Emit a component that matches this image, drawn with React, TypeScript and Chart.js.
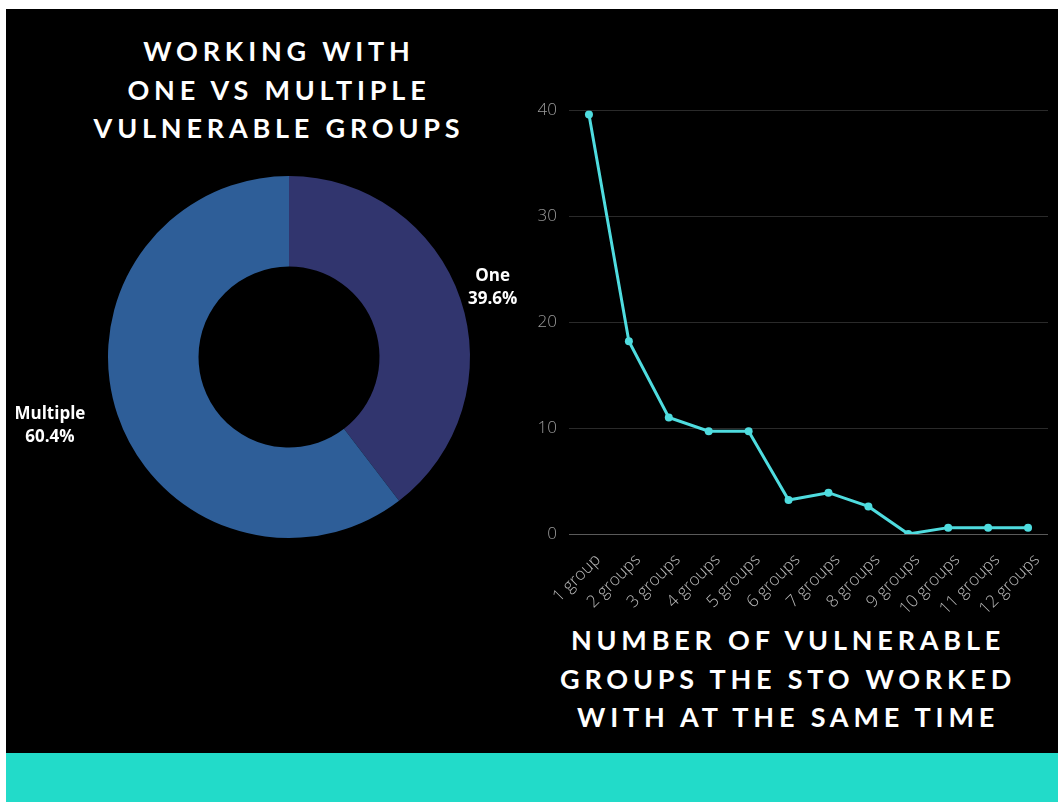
import React, { useEffect, useRef } from "react";
import { Chart, registerables } from "chart.js";
Chart.register(...registerables);

const pieLabels = ["One", "Multiple"];
const pieValues = [39.6, 60.4];
const pieColors = ["#31356e", "#2e5e98"];

const groupLabels = [
  "1 group", "2 groups", "3 groups", "4 groups", "5 groups", "6 groups",
  "7 groups", "8 groups", "9 groups", "10 groups", "11 groups", "12 groups",
];
const groupValues = [39.6, 18.2, 11.0, 9.7, 9.7, 3.2, 3.9, 2.6, 0, 0.6, 0.6, 0.6];
const yTickValues = [0, 10, 20, 30, 40];

const leftTitle = ["WORKING WITH", "ONE VS MULTIPLE", "VULNERABLE GROUPS"];
const rightTitle = ["NUMBER OF VULNERABLE", "GROUPS THE STO WORKED", "WITH AT THE SAME TIME"];

const pieLabelPlugin = {
  id: "pieOutsideLabels",
  afterDatasetsDraw(chart: any) {
    const ctx = chart.ctx;
    const meta = chart.getDatasetMeta(0);
    meta.data.forEach((arc: any, i: number) => {
      const p = arc.getProps(["x", "y", "startAngle", "endAngle", "outerRadius"], true);
      const mid = (p.startAngle + p.endAngle) / 2;
      const r = p.outerRadius + 34;
      const ax = p.x + Math.cos(mid) * r;
      const ay = p.y + Math.sin(mid) * r;
      ctx.save();
      ctx.font = 'bold 17px "Open Sans"';
      const lines = [pieLabels[i], pieValues[i].toFixed(1) + "%"];
      const w = Math.max(...lines.map((l) => ctx.measureText(l).width));
      const cx = Math.cos(mid) >= 0 ? ax : ax - w / 2;
      ctx.textAlign = "center";
      ctx.textBaseline = "middle";
      ctx.fillStyle = "#ffffff";
      const lh = 23;
      lines.forEach((l, k) => ctx.fillText(l, cx, ay + (k - (lines.length - 1) / 2) * lh));
      ctx.restore();
    });
  },
};

const titleStyle: React.CSSProperties = {
  position: "absolute",
  color: "#ffffff",
  fontFamily: "Lato, sans-serif",
  fontWeight: 700,
  fontSize: 27,
  lineHeight: "38.5px",
  letterSpacing: "4.8px",
  paddingLeft: 5,
  textAlign: "center",
  whiteSpace: "nowrap",
};

export default function App() {
  const donutRef = useRef<HTMLCanvasElement>(null);
  const lineRef = useRef<HTMLCanvasElement>(null);

  useEffect(() => {
    const donut = new Chart(donutRef.current!, {
      type: "doughnut",
      data: {
        labels: pieLabels,
        datasets: [
          {
            data: pieValues,
            backgroundColor: pieColors,
            borderWidth: 0,
          },
        ],
      },
      options: {
        animation: false,
        responsive: false,
        cutout: "50%",
        layout: { padding: { left: 100, right: 54, top: 26, bottom: 32 } },
        plugins: { legend: { display: false }, tooltip: { enabled: false } },
        events: [],
      },
      plugins: [pieLabelPlugin],
    });

    const line = new Chart(lineRef.current!, {
      type: "line",
      data: {
        labels: groupLabels,
        datasets: [
          {
            data: groupValues,
            borderColor: "#4fdcdf",
            backgroundColor: "#4fdcdf",
            borderWidth: 3,
            pointRadius: 4,
            pointBorderWidth: 0,
            tension: 0,
          },
        ],
      },
      options: {
        animation: false,
        responsive: false,
        events: [],
        layout: { padding: { top: 0, right: 8, left: 0, bottom: 0 } },
        plugins: { legend: { display: false }, tooltip: { enabled: false } },
        scales: {
          x: {
            offset: true,
            grid: { display: false },
            border: { display: false },
            ticks: {
              color: "#b8b8b8",
              font: { family: "'Open Sans'", size: 17, weight: "300" as any },
              minRotation: 45,
              maxRotation: 45,
              autoSkip: false,
              padding: 8,
              labelOffset: 9,
            },
            afterFit: (s: any) => {
              s.height = 86;
            },
          },
          y: {
            min: 0,
            max: 40,
            afterBuildTicks: (s: any) => {
              s.ticks = yTickValues.map((v) => ({ value: v }));
            },
            grid: {
              drawTicks: false,
              color: (c: any) => (c.tick && c.tick.value === 0 ? "#5a5a5a" : "#2a2a2a"),
            },
            border: { display: false },
            ticks: {
              color: "#9a9a9a",
              font: { family: "'Open Sans'", size: 17, weight: "300" as any },
              padding: 12,
            },
            afterFit: (s: any) => {
              s.width = 69;
            },
          },
        },
      },
    });

    return () => {
      donut.destroy();
      line.destroy();
    };
  }, []);

  return (
    <div>
      <div style={{ position: "absolute", left: 6, top: 9, width: 1052, height: 744, background: "#000" }} />
      <div style={{ position: "absolute", left: 6, top: 753, width: 1052, height: 49, background: "#22dbc9" }} />
      <div style={{ ...titleStyle, left: 24, top: 32, width: 500 }}>
        {leftTitle.map((t) => (
          <div key={t}>{t}</div>
        ))}
      </div>
      <div style={{ ...titleStyle, left: 533, top: 621, width: 500 }}>
        {rightTitle.map((t) => (
          <div key={t}>{t}</div>
        ))}
      </div>
      <canvas
        ref={donutRef}
        width={520}
        height={420}
        style={{ position: "absolute", left: 6, top: 150, width: 520, height: 420 }}
      />
      <canvas
        ref={lineRef}
        width={556}
        height={532}
        style={{ position: "absolute", left: 500, top: 88, width: 556, height: 532 }}
      />
    </div>
  );
}
